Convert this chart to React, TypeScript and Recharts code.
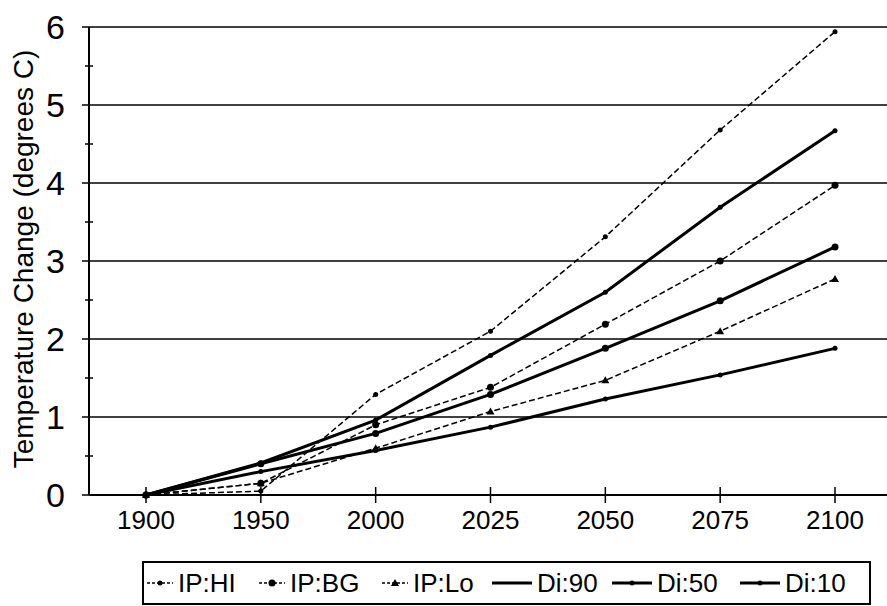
import { LineChart, Line, XAxis, YAxis, CartesianGrid, Legend } from "recharts";

const years = ["1900", "1950", "2000", "2025", "2050", "2075", "2100"];
const ipHi = [0, 0.05, 1.29, 2.1, 3.31, 4.68, 5.94];
const ipBg = [0, 0.15, 0.9, 1.38, 2.19, 3.0, 3.97];
const ipLo = [0, 0.15, 0.6, 1.07, 1.47, 2.1, 2.77];
const di90 = [0, 0.41, 0.96, 1.79, 2.6, 3.69, 4.67];
const di50 = [0, 0.4, 0.79, 1.29, 1.88, 2.49, 3.18];
const di10 = [0, 0.3, 0.57, 0.87, 1.23, 1.54, 1.88];
const yTicks = [0, 0.5, 1, 1.5, 2, 2.5, 3, 3.5, 4, 4.5, 5, 5.5, 6];
const gridValues = [0, 1, 2, 3, 4, 5, 6];

const data = years.map((year, i) => ({
	year,
	ipHi: ipHi[i],
	ipBg: ipBg[i],
	ipLo: ipLo[i],
	di90: di90[i],
	di50: di50[i],
	di10: di10[i],
}));

type Marker = "dot" | "circle" | "triangle" | "none";

const series: { key: string; name: string; dashed: boolean; marker: Marker; legendMarker: Marker }[] = [
	{ key: "ipHi", name: "IP:HI", dashed: true, marker: "dot", legendMarker: "dot" },
	{ key: "ipBg", name: "IP:BG", dashed: true, marker: "circle", legendMarker: "circle" },
	{ key: "ipLo", name: "IP:Lo", dashed: true, marker: "triangle", legendMarker: "triangle" },
	{ key: "di90", name: "Di:90", dashed: false, marker: "dot", legendMarker: "none" },
	{ key: "di50", name: "Di:50", dashed: false, marker: "circle", legendMarker: "dot" },
	{ key: "di10", name: "Di:10", dashed: false, marker: "dot", legendMarker: "dot" },
];

const FONT = "'Liberation Sans', Arial, sans-serif";

const drawMarker = (marker: Marker, cx: number, cy: number, key?: string) => {
	if (marker === "none") return <g key={key} />;
	if (marker === "triangle") {
		return (
			<path
				key={key}
				d={`M${cx},${cy - 4} L${cx + 4},${cy + 3} L${cx - 4},${cy + 3} Z`}
				fill="#000"
			/>
		);
	}
	return <circle key={key} cx={cx} cy={cy} r={marker === "circle" ? 3.5 : 2.5} fill="#000" />;
};

const YTick = ({ x, y, payload }: any) => {
	const v = payload.value;
	if (v % 1 !== 0) {
		return <line x1={x - 4} x2={x + 4} y1={y} y2={y} stroke="#000" strokeWidth={1.5} />;
	}
	return (
		<g>
			<line x1={x - 7} x2={x} y1={y} y2={y} stroke="#000" strokeWidth={1.5} />
			<text
				x={x - 24}
				y={y}
				textAnchor="end"
				dominantBaseline="central"
				fontSize={34}
				fontFamily={FONT}
				fill="#000">
				{v}
			</text>
		</g>
	);
};

const XTick = ({ x, y, payload }: any) => (
	<g>
		<line x1={x} x2={x} y1={y - 8} y2={y + 8} stroke="#000" strokeWidth={1.5} />
		<text
			x={x}
			y={y + 25}
			textAnchor="middle"
			dominantBaseline="central"
			fontSize={26}
			fontFamily={FONT}
			fill="#000">
			{payload.value}
		</text>
	</g>
);

// where each legend label starts, measured from the box's left edge
const legendTextLeft = [34, 146, 269, 393, 513, 641];

const LegendBox = () => (
	<div
		style={{
			position: "relative",
			width: 729,
			height: 44,
			boxSizing: "border-box",
			border: "2px solid #000",
			fontFamily: FONT,
			fontSize: 26,
			color: "#000",
		}}>
		{series.map((s, i) => {
			const w = s.dashed ? 26 : 40;
			return (
				<div
					key={s.key}
					style={{
						position: "absolute",
						left: legendTextLeft[i] - w - 5,
						top: 0,
						height: 40,
						display: "flex",
						alignItems: "center",
						whiteSpace: "nowrap",
					}}>
					<svg width={w} height={12} style={{ marginRight: 5 }}>
						<line
							x1={0}
							x2={w}
							y1={6}
							y2={6}
							stroke="#000"
							strokeWidth={s.dashed ? 1.5 : 3}
							strokeDasharray={s.dashed ? "3 2" : undefined}
						/>
						{drawMarker(s.legendMarker, w / 2, 6)}
					</svg>
					<span>{s.name}</span>
				</div>
			);
		})}
	</div>
);

export default function App() {
	return (
		<div style={{ position: "absolute", left: 0, top: 0, background: "#fff" }}>
			<LineChart
				width={887}
				height={606}
				data={data}
				margin={{ top: 27, right: 0, left: 0, bottom: 1 }}>
				<CartesianGrid
					vertical={false}
					horizontalValues={gridValues}
					stroke="#000"
					strokeWidth={1.5}
				/>
				<XAxis
					dataKey="year"
					height={66}
					padding={{ left: 57, right: 52 }}
					axisLine={{ stroke: "#000", strokeWidth: 2 }}
					tickLine={false}
					tickSize={0}
					tickMargin={0}
					tick={<XTick />}
					interval={0}
				/>
				<YAxis
					width={89}
					domain={[0, 6]}
					ticks={yTicks}
					interval={0}
					axisLine={{ stroke: "#000", strokeWidth: 2 }}
					tickLine={false}
					tickSize={0}
					tickMargin={0}
					tick={<YTick />}
					label={{
						content: () => (
							<text
								x={23}
								y={259}
								transform="rotate(-90 23 259)"
								textAnchor="middle"
								dominantBaseline="central"
								fontSize={28}
								fontFamily={FONT}
								fill="#000">
								Temperature Change (degrees C)
							</text>
						),
					}}
				/>
				<Legend
					verticalAlign="bottom"
					height={44}
					wrapperStyle={{ left: 142, width: 729 }}
					content={() => <LegendBox />}
				/>
				{series.map((s) => (
					<Line
						key={s.key}
						name={s.name}
						dataKey={s.key}
						type="linear"
						stroke="#000"
						strokeWidth={s.dashed ? 1.5 : 3}
						strokeDasharray={s.dashed ? "6 3" : undefined}
						dot={(p: any) => drawMarker(s.marker, p.cx, p.cy, `${s.key}-${p.index}`)}
						activeDot={false}
						isAnimationActive={false}
					/>
				))}
			</LineChart>
		</div>
	);
}
